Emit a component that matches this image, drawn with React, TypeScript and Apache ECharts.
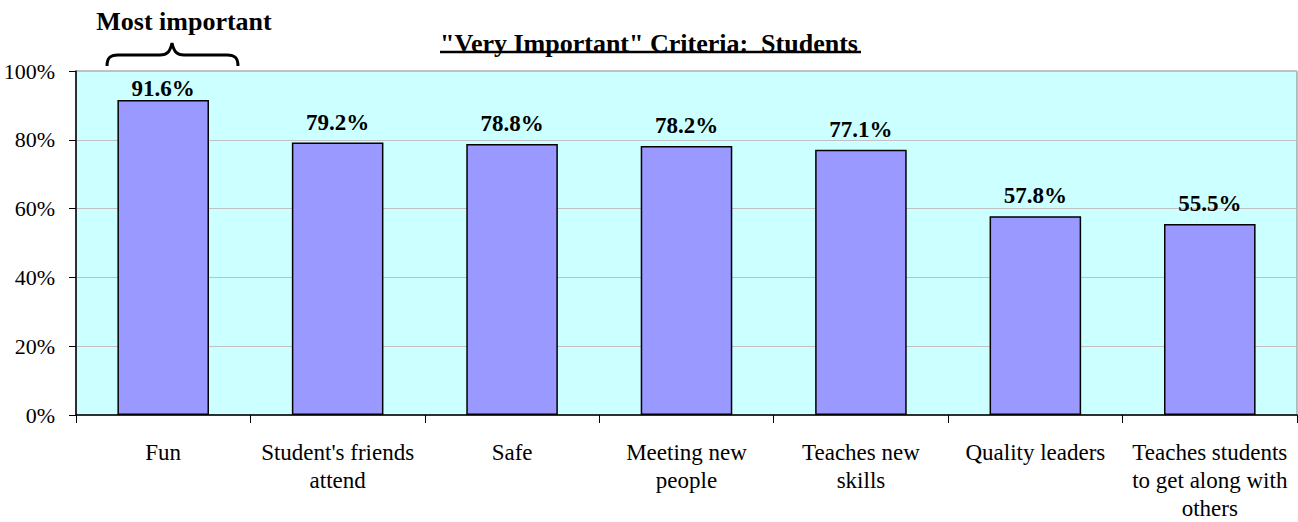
import React, { useEffect, useRef } from "react";
import * as echarts from "echarts";

const categories = [
  "Fun",
  "Student's friends\nattend",
  "Safe",
  "Meeting new\npeople",
  "Teaches new\nskills",
  "Quality leaders",
  "Teaches students\nto get along with\nothers",
];
const values = [91.6, 79.2, 78.8, 78.2, 77.1, 57.8, 55.5];
const yTicks = [0, 20, 40, 60, 80, 100];
const titleText = '"Very Important" Criteria:  Students';
const noteText = "Most important";

const FONT = "Liberation Serif, Times New Roman, serif";

const bracePath =
  "M107,66 C107,58 110,55 118,55 L160,55 C167,55 170,52 172,43 C174,52 177,55 184,55 L227,55 C235,55 238,58 238,66";

let registered = false;
function registerBrace() {
  if (registered) return;
  echarts.graphic.registerShape("brace", (echarts.graphic as any).extendPath(bracePath, {}));
  registered = true;
}

export default function App() {
  const ref = useRef<HTMLDivElement>(null);
  useEffect(() => {
    if (!ref.current) return;
    registerBrace();
    const chart = echarts.init(ref.current, null, { renderer: "svg" });
    chart.setOption({
      animation: false,
      textStyle: { fontFamily: FONT },
      title: {
        text: titleText,
        left: "center",
        top: 25,
        textStyle: { fontFamily: FONT, fontWeight: "bold", fontSize: 26, color: "#000" },
      },
      grid: {
        left: 76,
        right: 1,
        top: 71,
        bottom: 107,
        containLabel: false,
        outerBoundsMode: "none",
        show: true,
        backgroundColor: "#CCFFFF",
        borderColor: "#808080",
        borderWidth: 1,
      },
      xAxis: {
        type: "category",
        data: categories,
        boundaryGap: true,
        axisLine: { lineStyle: { color: "#000", width: 1.5 } },
        axisTick: { show: true, length: 8, alignWithLabel: false, lineStyle: { color: "#000" } },
        axisLabel: {
          interval: 0,
          margin: 23,
          fontFamily: FONT,
          fontSize: 23,
          lineHeight: 28,
          color: "#000",
        },
      },
      yAxis: {
        type: "value",
        min: 0,
        max: 100,
        interval: 20,
        axisLine: { show: true, lineStyle: { color: "#000", width: 1.5 } },
        axisTick: { show: true, length: 7, lineStyle: { color: "#000" } },
        axisLabel: {
          formatter: "{value}%",
          margin: 21,
          fontFamily: FONT,
          fontSize: 22,
          color: "#000",
        },
        splitLine: { show: true, lineStyle: { color: "#C0C0C0", width: 1 } },
      },
      series: [
        {
          type: "bar",
          data: values.map((v, i) =>
            i === 0 ? { value: v, label: { distance: 0 } } : v
          ),
          barWidth: "52.5%",
          itemStyle: { color: "#9999FF", borderColor: "#000", borderWidth: 1.5 },
          label: {
            show: true,
            position: "top",
            distance: 9,
            formatter: (p: any) => p.value.toFixed(1) + "%",
            fontFamily: FONT,
            fontWeight: "bold",
            fontSize: 23,
            color: "#000",
          },
        },
      ],
      graphic: [
        {
          type: "line",
          shape: { x1: 440, y1: 52, x2: 861, y2: 52 },
          style: { stroke: "#000", lineWidth: 2.5 },
        },
        {
          type: "text",
          x: 184,
          y: 21,
          style: {
            text: noteText,
            fontFamily: FONT,
            fontWeight: "bold",
            fontSize: 26,
            fill: "#000",
            align: "center",
            verticalAlign: "middle",
          },
        },
        {
          type: "brace",
          x: 0,
          y: 0,
          style: { stroke: "#000", lineWidth: 3, fill: null },
        },
      ],
    });
    return () => chart.dispose();
  }, []);
  return (
    <div
      ref={ref}
      style={{ position: "absolute", left: 0, top: 0, width: 1298, height: 522 }}
    />
  );
}
